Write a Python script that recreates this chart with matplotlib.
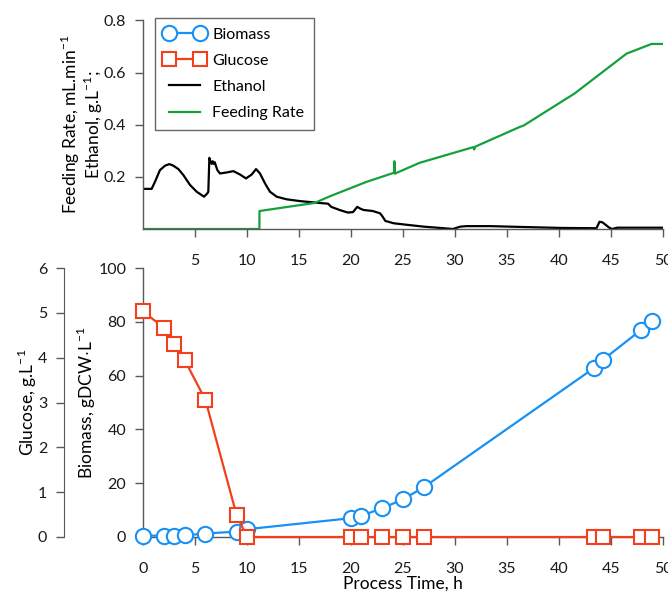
import numpy as np
import matplotlib
matplotlib.use("Agg")
import matplotlib.pyplot as plt
from matplotlib.lines import Line2D

plt.rcParams['font.family'] = ['Lato', 'DejaVu Sans']
plt.rcParams['mathtext.fontset'] = 'custom'
plt.rcParams['mathtext.rm'] = 'Lato'

# ethanol (g/L) and feeding rate (mL/min), online signals
eth_t = [0, 0.83, 1.15, 1.63, 2.12, 2.53, 2.92, 3.4, 3.88, 4.52, 5.16, 5.87, 6.19, 6.28,
         6.38, 6.5, 6.6, 6.7, 6.8, 6.9, 7.15, 7.4, 8.05, 8.69, 9.33, 9.9, 10.45, 10.87,
         11.25, 11.73, 12.21, 12.85, 13.8, 15.1, 16.7, 17.8, 18.1, 18.9, 19.7, 20.2,
         20.6, 20.9, 21.2, 22.1, 22.8, 23.05, 23.3, 24.1, 25.4, 27.0, 28.6, 29.8, 30.5,
         31.1, 33.4, 36.25, 38.2, 40.3, 43.6, 43.9, 44.2, 44.8, 45.1, 45.6, 50]
eth_v = [0.154, 0.154, 0.181, 0.226, 0.243, 0.249, 0.243, 0.23, 0.207, 0.169, 0.143, 0.124,
         0.137, 0.143, 0.273, 0.258, 0.25, 0.26, 0.25, 0.256, 0.226, 0.213, 0.217, 0.222,
         0.209, 0.194, 0.209, 0.23, 0.213, 0.175, 0.143, 0.124, 0.114, 0.107, 0.101, 0.097,
         0.085, 0.073, 0.063, 0.065, 0.085, 0.078, 0.073, 0.069, 0.06, 0.047, 0.031, 0.022,
         0.016, 0.009, 0.004, 0.0, 0.009, 0.011, 0.011, 0.008, 0.006, 0.004, 0.003, 0.028,
         0.025, 0.006, 0.0, 0.005, 0.005]

feed_t = [0, 11.19, 11.2, 16.5, 18.0, 21.5, 24.15, 24.17, 24.22, 24.3, 26.6, 31.75, 31.85,
          31.95, 36.25, 36.6, 41.5, 46.5, 48.9, 50]
feed_v = [0, 0, 0.069, 0.100, 0.126, 0.181, 0.216, 0.26, 0.212, 0.214, 0.254, 0.314, 0.305,
          0.316, 0.392, 0.397, 0.52, 0.673, 0.71, 0.71]

# offline samples
bio_t = [0, 2, 3, 4, 6, 9, 10, 20, 21, 23, 25, 27, 43.4, 44.2, 47.9, 48.9]
bio_v = [0.5, 0.5, 0.5, 0.6, 1.3, 2.0, 2.9, 7.0, 7.9, 10.7, 14.0, 18.5, 62.9, 65.8, 77.0, 80.3]
glc_t = [0, 2, 3, 4, 6, 9, 10, 20, 21, 23, 25, 27, 43.4, 44.2, 47.9, 48.9]
glc_v = [5.03, 4.67, 4.30, 3.95, 3.06, 0.49, 0, 0, 0, 0, 0, 0, 0, 0, 0, 0]

blue = '#1791f5'
red = '#f2401c'
green = '#14a03c'
spc = '#595959'
fs = 11.5
lfs = 12.5

fig = plt.figure(figsize=(6.68, 5.97), dpi=100)
ax1 = fig.add_axes([143/668, 1-229/597, 520/668, 208.5/597])
ax2 = fig.add_axes([143/668, 1-537/597, 520/668, 269/597])

def style(ax):
    for s in ['top', 'right']:
        ax.spines[s].set_visible(False)
    for s in ['left', 'bottom']:
        ax.spines[s].set_color(spc)
        ax.spines[s].set_linewidth(1.0)
    ax.tick_params(direction='out', length=6, width=1.0, color=spc,
                   labelsize=fs, pad=6, labelcolor='#1a1a1a')
    ax.tick_params(axis='x', pad=12)

# top panel
style(ax1)
ax1.plot(eth_t, eth_v, color='black', lw=1.6)
ax1.plot(feed_t, feed_v, color=green, lw=1.6)
ax1.set_xlim(0, 50)
ax1.set_ylim(0, 0.8)
ax1.set_xticks(np.arange(5, 51, 5))
ax1.set_yticks([0.2, 0.4, 0.6, 0.8])
ax1.set_ylabel('Feeding Rate, mL.min$^{-1}$\nEthanol, g.L$^{-1}$;', fontsize=lfs,
               linespacing=1.0)
ax1.yaxis.set_label_coords(-0.073, 0.5)

# bottom panel
style(ax2)
ax2.plot(bio_t, bio_v, color=blue, lw=1.6, marker='o', ms=11, mfc='white',
         mec=blue, mew=1.5, zorder=3, clip_on=False)
ax2.set_xlim(0, 50)
ax2.set_ylim(0, 100)
ax2.set_xticks(np.arange(0, 51, 5))
ax2.set_yticks(np.arange(0, 101, 20))
ax2.set_xlabel('Process Time, h', fontsize=lfs, labelpad=0)
ax2.set_ylabel('Biomass, gDCW$\\cdot$L$^{-1}$', fontsize=lfs)
ax2.yaxis.set_label_coords(-0.086, 0.5)

ax3 = ax2.twinx()
ax3.plot(glc_t, glc_v, color=red, lw=1.6, marker='s', ms=10, mfc='white',
         mec=red, mew=1.5, zorder=3, clip_on=False)
ax3.set_ylim(0, 6)
ax3.set_yticks(np.arange(0, 7, 1))
for s in ['top', 'right', 'bottom']:
    ax3.spines[s].set_visible(False)
ax3.spines['left'].set_visible(True)
ax3.spines['left'].set_position(('axes', -0.152))
ax3.spines['left'].set_color(spc)
ax3.yaxis.set_ticks_position('left')
ax3.yaxis.set_label_position('left')
ax3.tick_params(direction='out', length=6, width=1.0, color=spc,
                labelsize=fs, pad=6, labelcolor='#1a1a1a')
ax3.set_ylabel('Glucose, g.L$^{-1}$', fontsize=lfs)
ax3.yaxis.set_label_coords(-0.2, 0.5)

handles = [
    Line2D([], [], color=blue, lw=1.6, marker='o', ms=11, mfc='white', mec=blue, mew=1.5),
    Line2D([], [], color=red, lw=1.6, marker='s', ms=10, mfc='white', mec=red, mew=1.5),
    Line2D([], [], color='black', lw=1.6),
    Line2D([], [], color=green, lw=1.6),
]
labels = ['Biomass', 'Glucose', 'Ethanol', 'Feeding Rate']
leg = fig.legend(handles, labels, loc='upper left',
                 bbox_to_anchor=(155/668, 1-18/597), numpoints=2,
                 fontsize=fs, frameon=True, fancybox=False, handlelength=2.5,
                 handletextpad=0.5, labelspacing=0.75, borderpad=0.6,
                 borderaxespad=0)
leg.get_frame().set_edgecolor('#404040')
leg.get_frame().set_linewidth(1.0)

fig.savefig('out.png', dpi=100)
